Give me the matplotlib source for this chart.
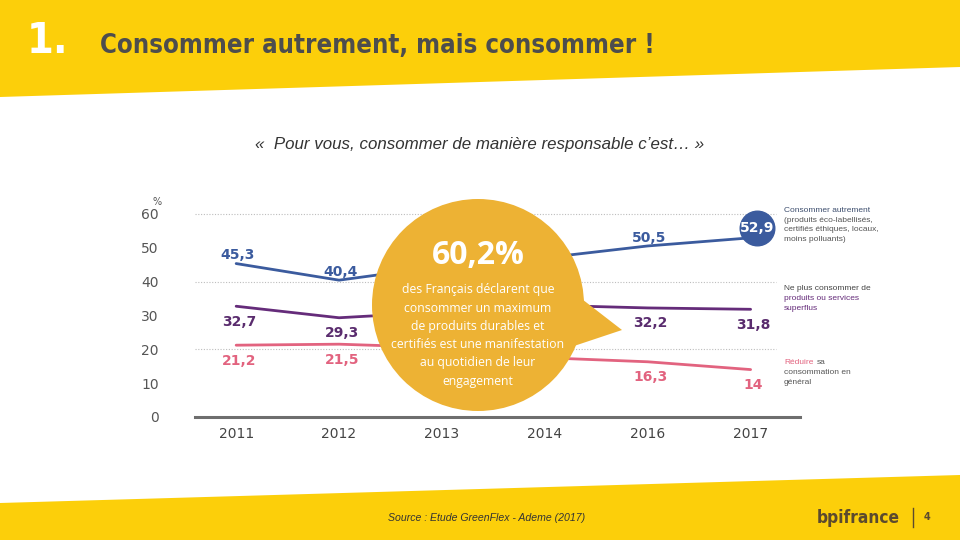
"""Slide: Consommer autrement, mais consommer ! (GreenFlex / Ademe 2017)."""
import matplotlib
matplotlib.use('Agg')
import matplotlib.pyplot as plt
import matplotlib.patches as mpatches
import numpy as np

# ── Data ────────────────────────────────────────────────────────────
YEARS = ['2011', '2012', '2013', '2014', '2016', '2017']
AUTREMENT = [45.3, 40.4, 44.5, 47.0, 50.5, 52.9]     # 2013/2014 hidden by bubble
SUPERFLUS = [32.7, 29.3, 31.0, 33.0, 32.2, 31.8]
REDUIRE = [21.2, 21.5, 20.5, 17.5, 16.3, 14.0]
# which points get a printed label (hidden ones don't)
LABELLED = [0, 1, 4, 5]
Y_TICKS = [0, 10, 20, 30, 40, 50, 60]
GRID_LINES = [20, 40, 60]

# ── Colors ──────────────────────────────────────────────────────────
YELLOW = '#FCCF0A'
BUBBLE = '#EDB234'
BLUE = '#3B5B9E'
PURPLE = '#652C7A'
PINK = '#E2637F'
GREY_TXT = '#555555'
BROWN = '#5B4A2E'

W, H = 960, 540
fig = plt.figure(figsize=(9.6, 5.4), dpi=100, facecolor='white')


def fmt(v):
    return (f'{v:.1f}' if v % 1 else f'{int(v)}').replace('.', ',')


# ── Chart axes (pixel geometry) ─────────────────────────────────────
px0, px1 = 195, 800        # axes left/right in pixels
py_bot, py_top = 417, 207  # y=0 and y=62
ax = fig.add_axes([px0 / W, 1 - py_bot / H, (px1 - px0) / W, (py_bot - py_top) / H])
ax.patch.set_alpha(0)
x = np.arange(len(YEARS))
ax.set_xlim(-0.40, 5.48)
ax.set_ylim(0, 62)

for g in GRID_LINES:
    ax.hlines(g, -0.40, 5.25, color='#BDBDBD', lw=0.8, linestyles=(0, (1, 1.5)), zorder=1)
ax.axhline(0, color='#6E6E6E', lw=2.2, zorder=2, clip_on=False)

ax.plot(x, AUTREMENT, color=BLUE, lw=2, zorder=3, solid_capstyle='round')
ax.plot(x, SUPERFLUS, color=PURPLE, lw=2, zorder=3, solid_capstyle='round')
ax.plot(x, REDUIRE, color=PINK, lw=2, zorder=3, solid_capstyle='round')

lab_kw = dict(ha='center', fontsize=10, fontweight='bold', textcoords='offset points')
for i in LABELLED[:-1]:
    ax.annotate(fmt(AUTREMENT[i]), (x[i], AUTREMENT[i]),
                xytext=(1, 1), va='bottom', color=BLUE, **lab_kw)
# last blue point in a filled circle
ax.scatter([x[5] + 0.06], [AUTREMENT[5] + 3.0], s=620, color=BLUE, zorder=4)
ax.text(x[5] + 0.06, AUTREMENT[5] + 3.0, fmt(AUTREMENT[5]),
        color='white', fontsize=10, fontweight='bold', ha='center', va='center', zorder=5)

for i in LABELLED:
    ax.annotate(fmt(SUPERFLUS[i]), (x[i], SUPERFLUS[i]), xytext=(2, -6),
                va='top', color='#5A2C6E', **lab_kw)
    ax.annotate(fmt(REDUIRE[i]), (x[i], REDUIRE[i]), xytext=(2, -6),
                va='top', color=PINK, **lab_kw)

ax.set_xticks(x)
ax.set_xticklabels(YEARS, fontsize=10, color='#444444')
ax.set_yticks(Y_TICKS)
ax.set_yticklabels([str(t) for t in Y_TICKS], fontsize=10, color=GREY_TXT)
ax.tick_params(length=0, pad=7)
ax.tick_params(axis='y', pad=26)
for sp in ax.spines.values():
    sp.set_visible(False)

# ── Overlay axes in pixel coordinates for the slide decoration ──────
ov = fig.add_axes([0, 0, 1, 1], zorder=10)
ov.set_xlim(0, W)
ov.set_ylim(H, 0)
ov.axis('off')
ov.patch.set_alpha(0)

# top banner and bottom band (slanted edges)
ov.add_patch(mpatches.Polygon([(0, 0), (W, 0), (W, 67), (0, 97)], closed=True,
                              color=YELLOW, lw=0))
ov.add_patch(mpatches.Polygon([(0, 503), (W, 475), (W, H), (0, H)], closed=True,
                              color=YELLOW, lw=0))

NARROW = ['DejaVu Sans']
ov.text(27, 41, '1.', color='white', fontsize=31, fontweight='bold', va='center',
        ha='left', family=NARROW, fontstretch='condensed')
title = ov.text(100, 46, 'Consommer autrement, mais consommer !', color='#4D4D4D',
                fontsize=24, fontweight='bold', va='center', ha='left',
                family=NARROW, fontstretch='condensed')

ov.text(480, 145, '«  Pour vous, consommer de manière responsable c’est… »',
        fontsize=12.2, style='italic', color='#333333', ha='center', va='center',
        family=['Liberation Sans', 'DejaVu Sans'])

# speech bubble
ov.add_patch(mpatches.Polygon([(578, 296), (622, 330), (574, 346)], closed=True,
                              color=BUBBLE, lw=0))
ov.add_patch(mpatches.Circle((478, 305), 106, color=BUBBLE, lw=0))
ov.text(478, 256, '60,2%', color='white', fontsize=23, fontweight='bold',
        ha='center', va='center', family=['Open Sans', 'DejaVu Sans'])
bubble_lines = ['des Français déclarent que', 'consommer un maximum',
                'de produits durables et', 'certifiés est une manifestation',
                'au quotidien de leur', 'engagement']
for k, line in enumerate(bubble_lines):
    ov.text(478, 290 + k * 18.2, line, color='white', fontsize=8.8, ha='center',
            va='center', family=['Open Sans', 'DejaVu Sans'])

# "%" unit label
ov.text(157, 202, '%', fontsize=7, color=GREY_TXT, ha='center', va='center')

# right-hand series captions
cap_kw = dict(fontsize=6, ha='left', va='center', family=['Liberation Sans', 'DejaVu Sans'])
ov.text(784, 210, 'Consommer autrement', color='#3D4E6E', **cap_kw)
for k, line in enumerate(['(produits éco-labellisés,', 'certifiés éthiques, locaux,',
                          'moins polluants)']):
    ov.text(784, 220 + k * 9.7, line, color='#555555', **cap_kw)
ov.text(784, 289, 'Ne plus consommer de', color='#444444', **cap_kw)
ov.text(784, 298.5, 'produits ou services', color=PURPLE, **cap_kw)
ov.text(784, 308, 'superflus', color=PURPLE, **cap_kw)
red = ov.text(784, 363, 'Réduire', color=PINK, **cap_kw)
sa = ov.text(784, 363, 'sa', color='#555555', **cap_kw)
ov.text(784, 372.5, 'consommation en', color='#555555', **cap_kw)
ov.text(784, 382, 'général', color='#555555', **cap_kw)

# footer
ov.text(388, 518, 'Source : Etude GreenFlex - Ademe (2017)', fontsize=7.6, style='italic',
        color='#333333', ha='left', va='center', family=['Liberation Sans', 'DejaVu Sans'])
logo = ov.text(817, 518, 'bpifrance', fontsize=14, fontweight='bold', color=BROWN,
               ha='left', va='center', family=NARROW, fontstretch='condensed')
ov.plot([913, 913], [508, 527], color=BROWN, lw=1)
ov.text(927, 517, '4', fontsize=7, fontweight='bold', color=BROWN, ha='center', va='center')

# fit the condensed texts to the widths seen on the slide
fig.canvas.draw()
r = fig.canvas.get_renderer()
for t, target in [(title, 555), (logo, 84)]:
    w = t.get_window_extent(r).width
    t.set_fontsize(t.get_fontsize() * target / w)
bb = red.get_window_extent(r)
sa.set_x(bb.x1 + 3)

fig.savefig('out.png', dpi=100, facecolor=fig.get_facecolor())
